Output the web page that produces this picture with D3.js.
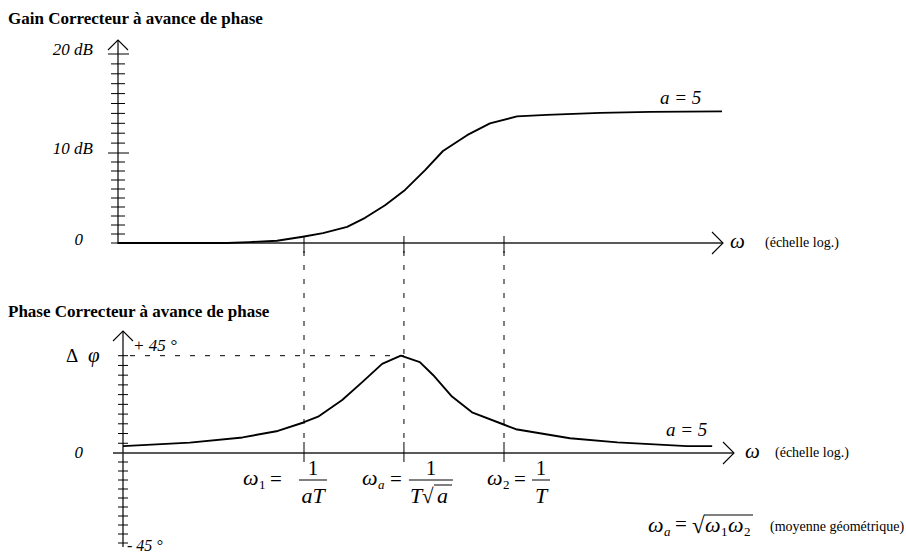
<!DOCTYPE html>
<html>
<head>
<meta charset="utf-8">
<script src="https://cdn.jsdelivr.net/npm/d3@7"></script>
<style>
  body { margin: 0; background: #fff; }
  svg { display: block; }
  text { font-family: "Liberation Serif", "Times New Roman", serif; fill: #000; }
</style>
</head>
<body>
<svg id="chart" width="906" height="554"></svg>
<script>
// Bode diagram of a phase-lead corrector (a = 5), pulsation in units of 1/T
const gainOmega = [0.0447, 0.1075, 0.129, 0.161, 0.198, 0.233, 0.283, 0.327, 0.384, 0.451, 0.530, 0.612, 0.743, 0.893, 1.11, 1.41, 2.17, 3.24, 5.78];
const gainDb    = [0, 0, 0.1, 0.25, 0.7, 1.1, 1.8, 2.8, 4.2, 5.9, 8.1, 10.2, 11.8, 13.0, 13.7, 13.85, 14.05, 14.15, 14.2];

const phaseOmega = [0.0466, 0.0798, 0.122, 0.162, 0.198, 0.224, 0.272, 0.321, 0.375, 0.436, 0.508, 0.565, 0.658, 0.773, 0.992, 1.10, 1.70, 2.49, 4.36, 5.34];
const phaseDeg   = [3.2, 4.8, 7.2, 10.2, 14.0, 16.8, 24.5, 33, 41.2, 45, 42, 36.1, 26.1, 18.8, 13.3, 11, 6.8, 4.9, 3.2, 3.2];

// characteristic pulsations: w1 = 1/(aT), wa = 1/(T*sqrt(a)), w2 = 1/T
const cornerOmega = [0.2, 0.447, 1];
const peakPhase = 45;

const gainTicks = d3.range(0, 21, 1);          // 1 dB graduations
const gainTickLabels = [[0, "0"], [10, "10 dB"], [20, "20 dB"]];
const phaseTicks = d3.range(-45, 45.01, 4.5);  // 4.5° graduations
const aLabel = "a = 5";
const axisCaption = "(échelle log.)";

const svg = d3.select("#chart");

// shared logarithmic pulsation axis
const x = d3.scaleLog().domain([0.2, 1]).range([304, 504]);
const yGain = d3.scaleLinear().domain([0, 10, 20]).range([243, 153, 54]);
const yPhase = d3.scaleLinear().domain([-45, 0, 45]).range([543, 453, 355.7]);

const gainAxisX = 118, gainEndX = 723;
const phaseAxisX = 123, phaseEndX = 734;

const ink = "#000";

function arrowRight(xTip, y) {
  svg.append("path")
    .attr("d", `M${xTip - 11},${y - 11}L${xTip},${y}L${xTip - 11},${y + 11}`)
    .attr("fill", "none").attr("stroke", ink).attr("stroke-width", 1.1);
}
function arrowUp(xc, yTip) {
  svg.append("path")
    .attr("d", `M${xc - 10},${yTip + 10}L${xc},${yTip}L${xc + 10},${yTip + 10}`)
    .attr("fill", "none").attr("stroke", ink).attr("stroke-width", 1.1);
}
function txt(s, xx, yy, size, opts = {}) {
  return svg.append("text")
    .attr("x", xx).attr("y", yy)
    .attr("font-size", size)
    .attr("font-style", opts.italic ? "italic" : "normal")
    .attr("font-weight", opts.bold ? "bold" : "normal")
    .attr("text-anchor", opts.anchor || "start")
    .text(s);
}

/* ---------------- Gain panel ---------------- */
txt("Gain Correcteur à avance de phase", 8, 24, 17, { bold: true });

// vertical gain axis
svg.append("line").attr("x1", gainAxisX).attr("x2", gainAxisX)
  .attr("y1", yGain(0)).attr("y2", 40).attr("stroke", ink).attr("stroke-width", 1.2);
arrowUp(gainAxisX, 40);
svg.append("g").selectAll("line").data(gainTicks).join("line")
  .attr("x1", d => d === 0 ? gainAxisX - 7 : (d % 10 === 0 ? gainAxisX - 10 : gainAxisX - 7))
  .attr("x2", d => d === 0 ? gainAxisX : (d % 10 === 0 ? gainAxisX + 11 : gainAxisX + 7))
  .attr("y1", d => yGain(d)).attr("y2", d => yGain(d))
  .attr("stroke", ink).attr("stroke-width", 1);
gainTickLabels.forEach(([v, s]) => {
  txt(s, v === 0 ? 83 : 93, yGain(v) + (v === 0 ? 2 : 1), 17, { italic: true, anchor: "end" });
});

// horizontal pulsation axis
svg.append("line").attr("x1", gainAxisX - 1).attr("x2", gainEndX)
  .attr("y1", yGain(0)).attr("y2", yGain(0)).attr("stroke", "#222").attr("stroke-width", 1.3);
arrowRight(gainEndX, yGain(0));
svg.append("g").selectAll("line").data(cornerOmega).join("line")
  .attr("x1", d => x(d)).attr("x2", d => x(d))
  .attr("y1", yGain(0) - 7).attr("y2", yGain(0) + 10)
  .attr("stroke", ink).attr("stroke-width", 1);
txt("ω", 730, yGain(0) + 5, 21, { italic: true });
txt(axisCaption, 765, yGain(0) + 4, 14);

// gain curve
const gainLine = d3.line().x(d => x(d[0])).y(d => yGain(d[1]));
svg.append("path").datum(d3.zip(gainOmega, gainDb))
  .attr("d", gainLine).attr("fill", "none").attr("stroke", ink).attr("stroke-width", 1.9)
  .attr("stroke-linejoin", "round");
txt(aLabel, 660, 104, 19, { italic: true });

/* ---------------- Phase panel ---------------- */
txt("Phase Correcteur à avance de phase", 8, 317, 17, { bold: true });

// vertical phase axis
svg.append("line").attr("x1", phaseAxisX).attr("x2", phaseAxisX)
  .attr("y1", yPhase(-45) + 4).attr("y2", 331).attr("stroke", ink).attr("stroke-width", 1.2);
arrowUp(phaseAxisX, 331);
svg.append("g").selectAll("line").data(phaseTicks.filter(d => d !== 0)).join("line")
  .attr("x1", phaseAxisX - 5).attr("x2", phaseAxisX + 5)
  .attr("y1", d => yPhase(d)).attr("y2", d => yPhase(d))
  .attr("stroke", ink).attr("stroke-width", 1);

txt("+ 45 °", 133, 351, 17, { italic: true });
txt("- 45 °", 127, 551, 16, { italic: true });
txt("0", 83, yPhase(0) + 5, 17, { italic: true, anchor: "end" });
txt("Δ", 66, 362, 19);
txt("φ", 88, 362, 21, { italic: true });

// horizontal pulsation axis
svg.append("line").attr("x1", phaseAxisX - 10).attr("x2", phaseEndX)
  .attr("y1", yPhase(0)).attr("y2", yPhase(0)).attr("stroke", "#222").attr("stroke-width", 1.3);
arrowRight(phaseEndX, yPhase(0));
svg.append("g").selectAll("line").data(cornerOmega).join("line")
  .attr("x1", d => x(d)).attr("x2", d => x(d))
  .attr("y1", yPhase(0) - 11).attr("y2", yPhase(0) + 9)
  .attr("stroke", ink).attr("stroke-width", 1);
txt("ω", 745, yPhase(0) + 5, 21, { italic: true });
txt(axisCaption, 775, yPhase(0) + 4, 14);

// dashed guides: the three pulsations and the maximum phase lead
svg.append("g").selectAll("line").data(cornerOmega).join("line")
  .attr("x1", d => x(d)).attr("x2", d => x(d))
  .attr("y1", yGain(0) + 8).attr("y2", yPhase(0) - 11)
  .attr("stroke", ink).attr("stroke-width", 1).attr("stroke-dasharray", "5,9");
svg.append("line")
  .attr("x1", phaseAxisX + 7).attr("x2", x(cornerOmega[1]))
  .attr("y1", yPhase(peakPhase)).attr("y2", yPhase(peakPhase))
  .attr("stroke", ink).attr("stroke-width", 1).attr("stroke-dasharray", "5,10");

// phase curve
const phaseLine = d3.line().x(d => x(d[0])).y(d => yPhase(d[1]));
svg.append("path").datum(d3.zip(phaseOmega, phaseDeg))
  .attr("d", phaseLine).attr("fill", "none").attr("stroke", ink).attr("stroke-width", 1.9)
  .attr("stroke-linejoin", "round");
txt(aLabel, 666, 436, 19, { italic: true });

/* ---------------- pulsation formulas ---------------- */
const eqY = 485, barY = 480;
function omegaLabel(x0, sub, subItalic) {
  txt("ω", x0, eqY, 22, { italic: true });
  txt(sub, x0 + 16, eqY + 4, 13, { italic: subItalic });
}
function frac(cx, halfW, num, den, denItalic) {
  svg.append("line").attr("x1", cx - halfW).attr("x2", cx + halfW)
    .attr("y1", barY).attr("y2", barY).attr("stroke", ink).attr("stroke-width", 1);
  txt(num, cx, barY - 5, 21, { anchor: "middle" });
  if (den) txt(den, cx, barY + 23, 22, { italic: denItalic, anchor: "middle" });
}

// w1 = 1/(aT)
omegaLabel(243, "1", false);
txt("=", 270, eqY + 1, 21);
frac(x(cornerOmega[0]) + 9, 14, "1", "aT", true);

// wa = 1/(T sqrt(a))
omegaLabel(362, "a", true);
txt("=", 390, eqY + 1, 21);
frac(x(cornerOmega[1]) + 27, 22, "1", null);
txt("T", 410, barY + 23, 22, { italic: true });
txt("√", 422, barY + 23, 21);
svg.append("line").attr("x1", 434).attr("x2", 452).attr("y1", barY + 5).attr("y2", barY + 5)
  .attr("stroke", ink).attr("stroke-width", 1);
txt("a", 437, barY + 23, 22, { italic: true });

// w2 = 1/T
omegaLabel(487, "2", false);
txt("=", 514, eqY + 1, 21);
frac(x(cornerOmega[2]) + 37, 9, "1", "T", true);

// wa = sqrt(w1 w2)
const gy = 532;
txt("ω", 648, gy, 22, { italic: true });
txt("a", 664, gy + 4, 13, { italic: true });
txt("=", 675, gy - 1, 21);
txt("√", 692, gy + 1, 23);
svg.append("line").attr("x1", 704).attr("x2", 753).attr("y1", 515).attr("y2", 515)
  .attr("stroke", ink).attr("stroke-width", 1);
txt("ω", 705, gy, 22, { italic: true });
txt("1", 721, gy + 4, 13);
txt("ω", 728, gy, 22, { italic: true });
txt("2", 744, gy + 4, 13);
txt("(moyenne géométrique)", 770, 531, 14);
</script>
</body>
</html>
